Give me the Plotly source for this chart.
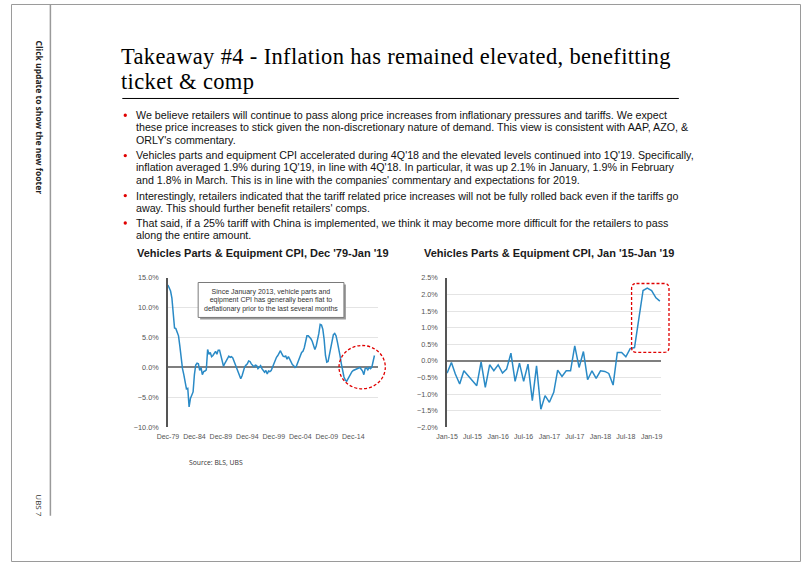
import plotly.graph_objects as go
import pandas as pd

W, H = 802, 567

# ---------------- data ----------------
long_values = [
    13.8, 13.4, 12.8, 11.6, 9.6, 6.6, 6.5, 5.8, 5.3, 3.6,
    1.4, -0.2, -1.2, -2.6, -3.6, -3.5, -6.6, -5.2, -4.6, -4.1,
    -1.2, 0.4, 0.7, 0.6, -0.5, 0.0, -1.2, -0.7, -0.6, -0.4,
    3.0, 2.2, 2.5, 1.8, 2.0, 2.5, 2.7, 2.2, 2.9, 2.9,
    2.0, 0.9, 0.2, 0.7, 1.1, 1.5, 1.9, 1.7, 1.8, 1.6,
    1.0, 0.6, 0.1, -0.5, -1.2, -1.9, -1.4, -0.5, 0.1, 0.4,
    0.6, 1.1, 1.0, 0.6, 0.4, 0.1, 0.4, 0.3, -0.2, 0.0,
    0.3, -0.2, -0.6, -0.8, -0.5, -1.1, -0.6, -0.7, -0.5, 0.1,
    0.8, 1.3, 1.7, 2.0, 2.3, 2.8, 2.3, 1.9, 1.8, 1.9,
    1.4, 1.8, 1.4, 0.8, 0.5, 0.3, 0.0, 0.2, 0.8, 1.5,
    2.0, 2.5, 2.7, 3.3, 4.3, 5.3, 5.3, 5.1, 4.8, 4.4,
    3.7, 3.0, 3.6, 4.5, 5.7, 7.2, 7.1, 6.4, 4.7, 2.0,
    0.9, 1.0, 2.2, 3.3, 4.0, 5.5, 5.7, 5.3, 4.3, 2.7,
    2.0, 0.6, -0.8, -1.6, -2.1, -2.3, -1.9, -1.5, -1.0, -0.7,
    -0.5, -0.4, -0.3, -0.2, -0.1, 0.0, -0.3, -0.6, -1.2, -0.2,
    -0.1, -0.4, 0.0, -0.2, 0.0, 0.8, 2.0,
]
long_dates = pd.date_range("1979-12-01", periods=len(long_values), freq="3MS")

short_values = [
    -0.37, -0.05, -0.4, -0.7, -0.3, -0.45, -0.6, -0.75, -0.03, -0.8,
    -0.12, -0.3, -0.12, -0.37, -0.25, 0.23, -0.62, -0.07, -0.62, -0.1,
    -1.2, -0.15, -1.46, -1.05, -1.25, -0.95, -0.28, -0.47, -0.3, -0.3,
    0.45, -0.2, 0.28, -0.57, -0.3, -0.53, -0.3, -0.32, -0.38, -0.73,
    0.25, 0.25, 0.12, 0.37, 0.4, 1.2, 2.12, 2.19, 2.12, 1.9, 1.8,
]
short_dates = pd.date_range("2015-01-01", periods=len(short_values), freq="MS")

long_tick_dates = ["1979-12-01", "1984-12-01", "1989-12-01", "1994-12-01",
                   "1999-12-01", "2004-12-01", "2009-12-01", "2014-12-01"]
long_tick_text = ["Dec-79", "Dec-84", "Dec-89", "Dec-94", "Dec-99", "Dec-04", "Dec-09", "Dec-14"]
short_tick_dates = ["2015-01-01", "2015-07-01", "2016-01-01", "2016-07-01", "2017-01-01",
                    "2017-07-01", "2018-01-01", "2018-07-01", "2019-01-01"]
short_tick_text = ["Jan-15", "Jul-15", "Jan-16", "Jul-16", "Jan-17", "Jul-17", "Jan-18", "Jul-18", "Jan-19"]

title_lines = ["Takeaway #4 - Inflation has remained elevated, benefitting", "ticket & comp"]
bullets = [
    ["We believe retailers will continue to pass along price increases from inflationary pressures and tariffs. We expect",
     "these price increases to stick given the non-discretionary nature of demand. This view is consistent with AAP, AZO, &",
     "ORLY's commentary."],
    ["Vehicles parts and equipment CPI accelerated during 4Q'18 and the elevated levels continued into 1Q'19. Specifically,",
     "inflation averaged 1.9% during 1Q'19, in line with 4Q'18. In particular, it was up 2.1% in January, 1.9% in February",
     "and 1.8% in March. This is in line with the companies' commentary and expectations for 2019."],
    ["Interestingly, retailers indicated that the tariff related price increases will not be fully rolled back even if the tariffs go",
     "away. This should further benefit retailers' comps."],
    ["That said, if a 25% tariff with China is implemented, we think it may become more difficult for the retailers to pass",
     "along the entire amount."],
]
chart_titles = ["Vehicles Parts & Equipment CPI, Dec '79-Jan '19",
                "Vehicles Parts & Equipment CPI, Jan '15-Jan '19"]
callout_lines = ["Since January 2013, vehicle parts and",
                 "eqipment CPI has generally been flat to",
                 "deflationary prior to the last several months"]

# ---------------- helpers ----------------
def px(x):
    return x / W

def py(y):
    return 1 - y / H

def block(lines, size, extra=""):
    return "<br>".join(f"<span style='font-size:{size}px;{extra}'>{t}</span>" for t in lines)

BLUE = "#2a8ac6"
GRID = "#e4e4e4"
TICKC = "#555555"
RED = "#e00000"
SIDE_FONT = "Open Sans"
SANS = "Liberation Sans"

fig = go.Figure()
fig.add_trace(go.Scatter(x=long_dates, y=long_values, mode="lines",
                         line=dict(color=BLUE, width=1.5), xaxis="x", yaxis="y",
                         showlegend=False, hoverinfo="skip"))
fig.add_trace(go.Scatter(x=short_dates, y=short_values, mode="lines",
                         line=dict(color=BLUE, width=1.5), xaxis="x2", yaxis="y2",
                         showlegend=False, hoverinfo="skip"))

xtickfont = dict(family=SANS, size=7, color=TICKC)
ytickfont = dict(family=SANS, size=7.3, color=TICKC)
ydom = [py(430), py(278.3)]

fig.update_layout(
    width=W, height=H, autosize=False,
    margin=dict(l=0, r=0, t=0, b=0),
    paper_bgcolor="white", plot_bgcolor="white",
    xaxis=dict(domain=[px(159.3), px(373)], type="date",
               range=["1979-12-01", "2019-09-01"], anchor="y",
               tickvals=long_tick_dates, ticktext=long_tick_text, tickangle=0,
               showgrid=False, zeroline=False, showline=False,
               tickfont=xtickfont, ticks="", ticklabelstandoff=4),
    yaxis=dict(domain=ydom, range=[-10, 15], dtick=5, anchor="x",
               tickformat=".1f", ticksuffix="%",
               showgrid=True, gridcolor=GRID, gridwidth=1,
               zeroline=True, zerolinecolor="#7f7f7f", zerolinewidth=1.5,
               showline=True, linecolor="#555555", linewidth=1.5,
               tickfont=ytickfont, ticks="", ticklabelstandoff=6),
    xaxis2=dict(domain=[px(442.7), px(660)], type="date",
                range=["2015-01-01", "2019-03-10"], anchor="y2",
                tickvals=short_tick_dates, ticktext=short_tick_text, tickangle=0,
                showgrid=False, zeroline=False, showline=False,
                tickfont=xtickfont, ticks="", ticklabelstandoff=4),
    yaxis2=dict(domain=ydom, range=[-2, 2.5], dtick=0.5, anchor="x2",
                tickformat=".1f", ticksuffix="%",
                showgrid=True, gridcolor=GRID, gridwidth=1,
                zeroline=True, zerolinecolor="#7f7f7f", zerolinewidth=1.5,
                showline=True, linecolor="#555555", linewidth=1.5,
                tickfont=ytickfont, ticks="", ticklabelstandoff=6),
)

shapes = []
annotations = []

# slide frame and side rule
shapes.append(dict(type="rect", xref="paper", yref="paper",
                   x0=px(0.5), x1=px(801.5), y0=py(566.5), y1=py(0.5),
                   line=dict(color="#9a9a9a", width=1)))
shapes.append(dict(type="line", xref="paper", yref="paper",
                   x0=px(40), x1=px(40), y0=py(0), y1=py(520),
                   line=dict(color="#9a9a9a", width=1.5)))

annotations.append(dict(text="<b>Click update to show the new footer</b>", xref="paper", yref="paper",
                        x=px(29), y=py(115), xanchor="center", yanchor="middle",
                        textangle=90, showarrow=False,
                        font=dict(family=SIDE_FONT, size=8.5, color="#222222")))
annotations.append(dict(text="UBS 7", xref="paper", yref="paper",
                        x=px(29), y=py(509), xanchor="center", yanchor="middle",
                        textangle=90, showarrow=False,
                        font=dict(family=SIDE_FONT, size=8, color="#333333")))

# title (base font size sets the line pitch; span sets glyph size)
title_pitch = 25
annotations.append(dict(text=block(title_lines, 22.5, "letter-spacing:0.35px"),
                        xref="paper", yref="paper",
                        x=px(111), y=py(66), xanchor="left", yanchor="middle",
                        align="left", showarrow=False, borderpad=0,
                        font=dict(family="Liberation Serif", size=title_pitch / 1.3, color="#000000")))
shapes.append(dict(type="line", xref="paper", yref="paper",
                   x0=px(113), x1=px(678), y0=py(96), y1=py(96),
                   line=dict(color="#000000", width=1)))

# bullets
first_line_y = [113, 154, 194.7, 222.5]
pitch = 12.3
for blines, y_first in zip(bullets, first_line_y):
    shapes.append(dict(type="circle", xref="paper", yref="paper",
                       x0=px(114.3), x1=px(117.7), y0=py(y_first + 1.7), y1=py(y_first - 1.7),
                       fillcolor=RED, line=dict(width=0)))
    y_mid = y_first + pitch * (len(blines) - 1) / 2
    annotations.append(dict(text=block(blines, 10.7), xref="paper", yref="paper",
                            x=px(126), y=py(y_mid), xanchor="left", yanchor="middle",
                            align="left", showarrow=False, borderpad=0,
                            font=dict(family=SANS, size=pitch / 1.3, color="#111111")))

# chart titles
for txt, xc in zip(chart_titles, [256, 546]):
    annotations.append(dict(text="<b>" + txt + "</b>", xref="paper", yref="paper",
                            x=px(xc), y=py(253), xanchor="center", yanchor="middle",
                            showarrow=False,
                            font=dict(family=SANS, size=11, color="#1a1a1a")))

# callout box with shadow
shapes.append(dict(type="rect", xref="paper", yref="paper",
                   x0=px(192), x1=px(340), y0=py(320.5), y1=py(285),
                   fillcolor="#9a9a9a", line=dict(width=0)))
shapes.append(dict(type="rect", xref="paper", yref="paper",
                   x0=px(190), x1=px(338), y0=py(318.5), y1=py(283),
                   fillcolor="white", line=dict(color="#7a7a7a", width=1)))
annotations.append(dict(text=block(callout_lines, 7), xref="paper", yref="paper",
                        x=px(264), y=py(300.8), xanchor="center", yanchor="middle",
                        showarrow=False, align="center", borderpad=0,
                        font=dict(family=SANS, size=6.4, color="#333333")))

# red dashed ellipse on long chart
shapes.append(dict(type="circle", xref="paper", yref="paper",
                   x0=px(333), x1=px(380), y0=py(391), y1=py(347),
                   line=dict(color=RED, width=1.3, dash="3px,2px")))

# red dashed rounded rectangle on short chart
x0, x1, y0, y1, r = 630, 668, 284, 354, 5
path = (f"M {px(x0 + r)},{py(y0)} L {px(x1 - r)},{py(y0)} "
        f"Q {px(x1)},{py(y0)} {px(x1)},{py(y0 + r)} L {px(x1)},{py(y1 - r)} "
        f"Q {px(x1)},{py(y1)} {px(x1 - r)},{py(y1)} L {px(x0 + r)},{py(y1)} "
        f"Q {px(x0)},{py(y1)} {px(x0)},{py(y1 - r)} L {px(x0)},{py(y0 + r)} "
        f"Q {px(x0)},{py(y0)} {px(x0 + r)},{py(y0)} Z")
shapes.append(dict(type="path", xref="paper", yref="paper", path=path,
                   line=dict(color=RED, width=1.3, dash="3px,2px")))

# source
annotations.append(dict(text="Source: BLS, UBS", xref="paper", yref="paper",
                        x=px(179), y=py(465.5), xanchor="left", yanchor="middle",
                        showarrow=False,
                        font=dict(family=SIDE_FONT, size=6.8, color="#333333")))

fig.update_layout(shapes=shapes, annotations=annotations)
fig.write_html(
    "out.html",
    config={"displayModeBar": False},
    post_script=("document.body.style.margin='0px';document.body.style.padding='0px';"
                 "document.documentElement.style.overflow='hidden';"),
)
